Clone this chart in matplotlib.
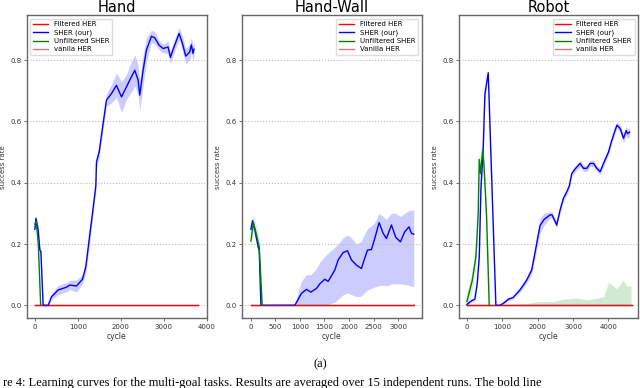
import numpy as np
import matplotlib
matplotlib.use("Agg")
import matplotlib.pyplot as plt

# ---- Hand ----
hand_blue_x = [0, 25, 77, 116, 140, 193, 310, 388, 543, 736, 814, 969, 1109, 1186, 1263, 1341,
               1419, 1434, 1496, 1589, 1667, 1783, 1899, 2016, 2132, 2248, 2326, 2403, 2442,
               2519, 2597, 2713, 2791, 2891, 2984, 3100, 3155, 3217, 3357, 3434, 3512, 3605,
               3643, 3682, 3705]
hand_blue_y = [.248, .284, .245, .18, .175, 0, 0, .028, .05, .059, .066, .063, .085, .126, .213,
               .3, .39, .468, .50, .594, .67, .691, .718, .68, .713, .746, .767, .735, .686,
               .767, .833, .878, .873, .849, .838, .843, .809, .835, .887, .855, .813, .827,
               .85, .822, .836]
hand_blue_hw = [.01, .01, .01, .01, .01, .005, .003, .01, .015, .015, .015, .02, .015, .02, .03,
                .02, .02, .02, .02, .02, .02, .03, .04, .05, .04, .05, .05, .05, .05, .05, .04,
                .02, .02, .015, .015, .02, .02, .02, .02, .025, .025, .025, .025, .025, .025]
hand_green_x = [0, 30, 80, 135]
hand_green_y = [.265, .275, .2, 0]
hand_end = 3800

# ---- Hand-Wall ----
wall_blue_x = [0, 34, 81, 149, 170, 204, 896, 1032, 1134, 1222, 1337, 1405, 1507, 1575, 1711,
               1779, 1880, 1969, 2050, 2152, 2254, 2309, 2376, 2458, 2525, 2614, 2695, 2763,
               2865, 2953, 3048, 3136, 3224, 3272, 3320]
wall_blue_y = [.248, .276, .245, .19, .178, 0, 0, .039, .052, .043, .055, .07, .085, .078, .115,
               .148, .172, .178, .148, .131, .12, .148, .18, .182, .218, .27, .235, .218, .262,
               .222, .207, .24, .256, .235, .232]
wall_blue_lo = [.238, .266, .235, .18, .168, 0, 0, 0, 0, 0, 0, 0, 0, .003, .01, .02, .034, .04,
                .035, .028, .03, .04, .05, .055, .06, .065, .065, .063, .07, .07, .07, .068,
                .065, .062, .06]
wall_blue_hi = [.258, .286, .255, .2, .188, 0, .005, .08, .1, .1, .12, .14, .16, .17, .19, .2,
                .22, .23, .22, .2, .21, .23, .25, .26, .27, .3, .29, .28, .3, .3, .29, .3, .31,
                .31, .31]
wall_green_x = [0, 50, 100, 170, 230]
wall_green_y = [.21, .27, .24, .19, 0]
wall_end = 3330

# ---- Robot ----
robot_blue_x = [0, 132, 226, 293, 350, 397, 463, 510, 604, 820, 935, 1076, 1170, 1303, 1501,
                1690, 1832, 1955, 2068, 2181, 2351, 2408, 2540, 2635, 2729, 2823, 2898, 2965,
                3060, 3201, 3296, 3390, 3484, 3579, 3673, 3768, 3862, 4003, 4098, 4240, 4334,
                4428, 4504, 4542, 4600]
robot_blue_y = [.003, .015, .02, .072, .158, .38, .517, .69, .759, 0, 0, .01, .02, .025, .05,
                .082, .115, .19, .26, .28, .295, .295, .262, .311, .349, .37, .39, .43, .445,
                .463, .447, .447, .463, .463, .447, .436, .463, .5, .539, .588, .577, .545,
                .57, .56, .565]
robot_blue_hw = [.003, .005, .005, .01, .02, .02, .02, .02, .01, 0, 0, .005, .005, .005, .008,
                 .01, .015, .02, .025, .02, .01, .01, .01, .01, .01, .01, .01, .01, .01, .01,
                 .01, .01, .01, .01, .01, .01, .01, .01, .01, .01, .012, .015, .015, .015, .015]
robot_green_x = [0, 150, 255, 320, 350, 387, 444, 482, 557, 632]
robot_green_y = [.012, .08, .158, .3, .476, .43, .506, .46, .29, 0]
robot_tail_x = [632, 1000, 1690, 2000, 2445, 2729, 3107, 3390, 3673, 3862, 4003, 4145, 4240,
                4410, 4523, 4640]
robot_tail_hi = [0, .003, .006, .012, .012, .02, .024, .018, .023, .028, .074, .063, .054,
                 .082, .063, .063]
robot_end = 4680

labels = ["Filtered HER", "SHER (our)", "Unfiltered SHER", "vanila HER"]
labels_wall = ["Filtered HER", "SHER (our)", "Unfiltered SHER", "Vanilla HER"]

fig = plt.figure(figsize=(6.4, 3.88), dpi=100)

panels = [
    ("Hand", [0.042, 0.180, 0.281, 0.781], (-186, 4000), hand_end, "upper left", labels),
    ("Hand-Wall", [0.378, 0.180, 0.281, 0.781], (-183, 3483), wall_end, "upper right", labels_wall),
    ("Robot", [0.717, 0.180, 0.280, 0.781], (-226, 4840), robot_end, "upper right", labels),
]

for i, (title, rect, xlim, xend, loc, labs) in enumerate(panels):
    ax = fig.add_axes(rect)
    if i == 0:
        bx, by = np.array(hand_blue_x), np.array(hand_blue_y)
        hw = np.array(hand_blue_hw)
        ax.fill_between(bx, by - hw, by + hw, color="#0000ff", alpha=0.2, lw=0)
        gx, gy = hand_green_x, hand_green_y
        ax.fill_between(gx, np.array(gy) - .01, np.array(gy) + .01, color="green", alpha=0.15, lw=0)
    elif i == 1:
        bx, by = wall_blue_x, wall_blue_y
        ax.fill_between(bx, wall_blue_lo, wall_blue_hi, color="#0000ff", alpha=0.2, lw=0)
        gx, gy = wall_green_x, wall_green_y
        ax.fill_between(gx, np.array(gy) - .03, np.array(gy) + .03, color="green", alpha=0.12, lw=0)
    else:
        bx, by = np.array(robot_blue_x), np.array(robot_blue_y)
        hw = np.array(robot_blue_hw)
        ax.fill_between(bx, by - hw, by + hw, color="#0000ff", alpha=0.2, lw=0)
        gx, gy = robot_green_x, robot_green_y
        ax.fill_between(gx, np.array(gy) - .03, np.array(gy) + .03, color="green", alpha=0.15, lw=0)
        ax.fill_between(robot_tail_x, 0, robot_tail_hi, color="green", alpha=0.18, lw=0)

    ax.plot([0, xend], [0, 0], color="red", lw=1.0, label=labs[0])
    ax.plot(bx, by, color="#0000ff", lw=1.0, label=labs[1])
    ax.plot(gx, gy, color="green", lw=1.0, label=labs[2])
    ax.plot([0, xend], [0, 0], color="brown", lw=1.0, alpha=0.6, label=labs[3])

    ax.set_xlim(*xlim)
    ax.set_ylim(-0.042, 0.947)
    ax.set_yticks([0.0, 0.2, 0.4, 0.6, 0.8])
    ax.set_yticklabels(["0.0", "0.2", "0.4", "0.6", "0.8"])
    if i == 1:
        ax.set_xticks([0, 500, 1000, 1500, 2000, 2500, 3000])
    else:
        ax.xaxis.set_major_locator(plt.MultipleLocator(1000))
    ax.yaxis.grid(True, ls=":", color="#bbbbbb", lw=0.8)
    ax.tick_params(labelsize=5, length=2, width=0.5, pad=2, colors="#333333")
    for s in ax.spines.values():
        s.set_color("#666666")
        s.set_linewidth(1.0)
    ax.set_xlabel("cycle", fontsize=5.5, labelpad=2, color="#333333")
    ax.set_ylabel("success rate", fontsize=5, labelpad=3, color="#333333")
    ax.set_title(title, fontsize=10.5, pad=2)
    ax.legend(loc=loc, fontsize=5, handlelength=2.2, borderpad=0.4, labelspacing=0.3,
              framealpha=1.0, edgecolor="#dddddd", fancybox=True)

fig.text(0.5, 0.06, "(a)", ha="center", va="center", fontsize=9, family="Liberation Serif")
fig.text(0.005, 0.006, "re 4: Learning curves for the multi-goal tasks. Results are averaged over 15 independent runs. The bold line",
         ha="left", va="baseline", fontsize=9, family="Liberation Serif")

fig.savefig("out.png", dpi=100)
